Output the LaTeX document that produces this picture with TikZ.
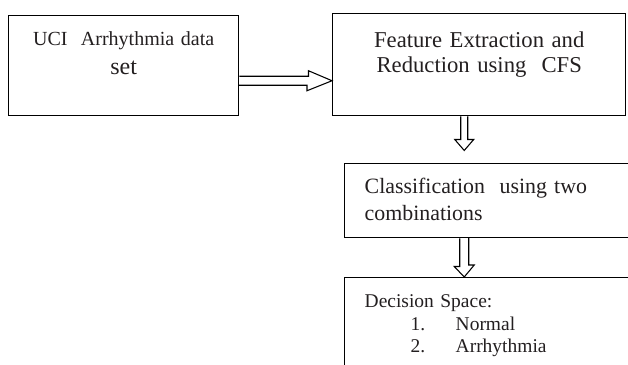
\documentclass[tikz,border=0pt]{standalone}
\usepackage{fontspec}
\setmainfont{Liberation Serif}
\usepackage{tikz}
\usetikzlibrary{
  positioning,
  calc
}
\definecolor{InkGray}{RGB}{35, 31, 32}
\tikzset{
    flowbox/.style={rectangle, draw=black, line width=1.1pt, inner xsep=0pt, inner ysep=0pt, text=InkGray, anchor=north west},
    hollowarrow/.style={draw=black, line width=0.8pt, line join=miter}
}

\begin{document}
\begin{tikzpicture}[x=0.75pt, y=-0.75pt]
    \clip (0,0) rectangle (628,364);
    % boxes
    \node[flowbox, text width=172.5pt, align=center, text height=22.5pt, text depth=52.5pt, font=\fontsize{15}{21.75}\selectfont] (uci) at (8,15)
        {UCI\ \ Arrhythmia data\\{\fontsize{18}{21.75}\selectfont set}};
    \node[flowbox, text width=219.75pt, align=center, text height=25.5pt, text depth=51pt, font=\fontsize{17}{18.75}\selectfont] (cfs) at (332,13)
        {Feature Extraction and\\Reduction using\ \ CFS};
    \node[flowbox, inner xsep=15pt, text width=217.5pt, align=left, text height=22.5pt, text depth=33pt, font=\fontsize{16.4}{20.25}\selectfont] (classify) at (344,163)
        {Classification\ \ using two\\combinations};
    \node[flowbox, inner xsep=15pt, text width=217.5pt, align=left, text height=22.5pt, text depth=67.5pt, font=\fontsize{14.6}{16.9}\selectfont] (decision) at (344,277)
        {Decision Space:\\
         \hspace*{34.5pt}\makebox[33.75pt][l]{1.}Normal\\
         \hspace*{34.5pt}\makebox[33.75pt][l]{2.}Arrhythmia};

    % hollow arrows
    \coordinate (h1) at ($(uci.east)+(0,15)$);
    \draw[hollowarrow] (h1) ++(0,-4.5) -- ++(69,0) -- ++(0,-5.5) -- (cfs.west |- h1) -- ++(-25,10) -- ++(0,-5.5) -- ++(-69,0);
    \coordinate (v1) at ($(cfs.south)+(-15,0)$);
    \draw[hollowarrow] (v1) ++(-3.5,0) -- ++(0,23) -- ++(-6,0) -- ++(9.5,11) -- ++(9.5,-11) -- ++(-6,0) -- ++(0,-23);
    \coordinate (v2) at ($(classify.south)+(-45.5,0)$);
    \draw[hollowarrow] (v2) ++(-4.5,0) -- ++(0,28) -- ++(-5.5,0) -- (v2 |- decision.north) -- ++(10,-12) -- ++(-5.5,0) -- ++(0,-28);
\end{tikzpicture}
\end{document}
